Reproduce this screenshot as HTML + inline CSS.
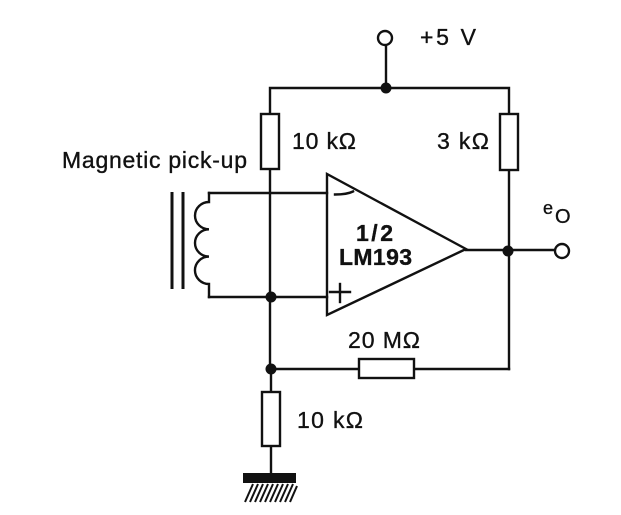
<!DOCTYPE html>
<html>
<head>
<meta charset="utf-8">
<style>
  html,body{margin:0;padding:0;background:#fff;}
  svg{display:block;}
  text{font-family:"Liberation Sans", Arial, sans-serif;fill:#111;stroke:#111;stroke-width:0.35;}
</style>
</head>
<body>
<svg width="621" height="515" viewBox="0 0 621 515" xmlns="http://www.w3.org/2000/svg">
  <rect width="621" height="515" fill="#fff"/>
  <g stroke="#111" stroke-width="2.4" fill="none" stroke-linecap="square">
    <!-- +5V supply -->
    <line x1="386" y1="45" x2="386" y2="88"/>
    <path d="M270 114 V88 H509 V114"/>
    <!-- left 10k upper -->
    <line x1="270" y1="169" x2="270" y2="369"/>
    <!-- right 3k -->
    <line x1="509" y1="170" x2="509" y2="369"/>
    <!-- feedback wire -->
    <line x1="271" y1="369" x2="509" y2="369"/>
    <!-- inputs -->
    <line x1="209" y1="193" x2="327" y2="193"/>
    <line x1="209" y1="297" x2="327" y2="297"/>
    <!-- coil -->
    <path d="M209 193 V202 A14 13.65 0 0 0 209 229.3 A14 13.65 0 0 0 209 256.6 A14 13.65 0 0 0 209 284 V297"/>
    <!-- output -->
    <line x1="466" y1="250" x2="554" y2="250"/>
    <!-- lower resistor wires -->
    <line x1="271" y1="369" x2="271" y2="392"/>
    <line x1="271" y1="446" x2="271" y2="474"/>
    <!-- op amp -->
    <polygon points="327,174 327,315 466,249" stroke-linejoin="miter"/>
    <!-- minus sign -->
    <path d="M335 194.5 Q347 194.5 353 191.5"/>
    <!-- plus sign -->
    <line x1="330" y1="292" x2="350" y2="292"/>
    <line x1="340" y1="284" x2="340" y2="302"/>
  </g>
  <!-- core lines -->
  <g stroke="#111" stroke-width="3">
    <line x1="172" y1="192" x2="172" y2="289"/>
    <line x1="183" y1="192" x2="183" y2="289"/>
  </g>
  <!-- resistors -->
  <g stroke="#111" stroke-width="2.4" fill="#fff">
    <rect x="261" y="114" width="18" height="55"/>
    <rect x="500" y="114" width="18" height="56"/>
    <rect x="359" y="359" width="55" height="19"/>
    <rect x="262" y="392" width="18" height="54"/>
    <circle cx="385" cy="38" r="7"/>
    <circle cx="562" cy="251" r="7"/>
  </g>
  <!-- junctions -->
  <g fill="#111">
    <circle cx="386" cy="88" r="5.5"/>
    <circle cx="271" cy="297" r="5.5"/>
    <circle cx="508" cy="251" r="5.5"/>
    <circle cx="271" cy="369" r="5.5"/>
    <!-- ground bar -->
    <rect x="243" y="473" width="53" height="10"/>
  </g>
  <!-- ground hatching -->
  <g stroke="#111" stroke-width="2">
    <line x1="253" y1="484" x2="245" y2="502"/>
    <line x1="258" y1="484" x2="250" y2="502"/>
    <line x1="263" y1="484" x2="255" y2="502"/>
    <line x1="268" y1="484" x2="260" y2="502"/>
    <line x1="273" y1="484" x2="265" y2="502"/>
    <line x1="278" y1="484" x2="270" y2="502"/>
    <line x1="283" y1="484" x2="275" y2="502"/>
    <line x1="288" y1="484" x2="280" y2="502"/>
    <line x1="293" y1="484" x2="285" y2="502"/>
    <line x1="297" y1="486" x2="290" y2="502"/>
  </g>
  <!-- labels -->
  <g font-size="23">
    <text x="420" y="45" textLength="56" lengthAdjust="spacing">+5 V</text>
    <text x="292" y="149" textLength="64" lengthAdjust="spacing">10 kΩ</text>
    <text x="437" y="149" textLength="52" lengthAdjust="spacing">3 kΩ</text>
    <text x="62" y="168" textLength="185" lengthAdjust="spacing">Magnetic pick-up</text>
    <text x="348" y="348" textLength="72" lengthAdjust="spacing">20 MΩ</text>
    <text x="297" y="428" textLength="66" lengthAdjust="spacing">10 kΩ</text>
  </g>
  <g font-size="23" font-weight="bold">
    <text x="356" y="241" textLength="37" lengthAdjust="spacing">1/2</text>
    <text x="339" y="265" textLength="73" lengthAdjust="spacing">LM193</text>
  </g>
  <text x="543" y="214" font-size="18">e</text>
  <text x="555" y="223" font-size="20">O</text>
</svg>
</body>
</html>
